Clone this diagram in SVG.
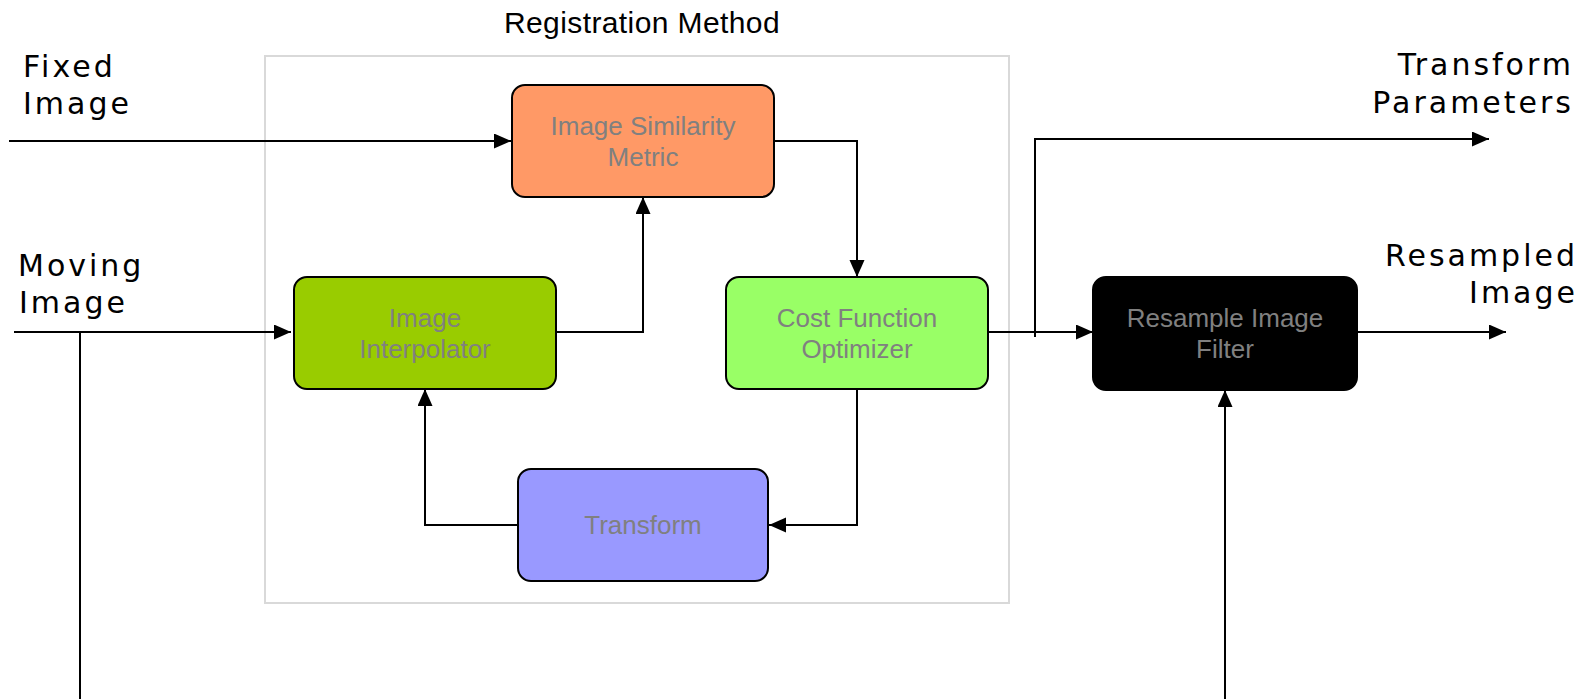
<svg xmlns="http://www.w3.org/2000/svg" width="1592" height="699" viewBox="0 0 1592 699">
<style>
.lbl{font-family:"DejaVu Sans",sans-serif;font-size:30px;letter-spacing:3px;fill:#000}
.box{stroke:#000;stroke-width:2}
.bt{font-family:"Liberation Sans",Arial,sans-serif;font-size:26px;fill:#808080;text-anchor:middle}
.c{fill:none;stroke:#000;stroke-width:2}
</style>
<defs>
<marker id="ah" markerUnits="userSpaceOnUse" markerWidth="18" markerHeight="16" refX="17" refY="7.5" orient="auto">
<path d="M0,0 L17,7.5 L0,15 z" fill="#000"/>
</marker>
</defs>
<rect width="1592" height="699" fill="#fff"/>
<g id="registration-method">
<rect x="265" y="56" width="744" height="547" fill="none" stroke="#d9d9d9" stroke-width="2"/>
<text x="642" y="33" font-family="Liberation Sans, Arial, sans-serif" font-size="30" letter-spacing="0.4" text-anchor="middle">Registration Method</text>
</g>
<g id="labels">
<text class="lbl" x="23" y="77">Fixed</text>
<text class="lbl" x="23" y="114">Image</text>
<text class="lbl" x="18" y="276">Moving</text>
<text class="lbl" x="19" y="313">Image</text>
<text class="lbl" x="1574" y="75" text-anchor="end">Transform</text>
<text class="lbl" x="1574" y="113" text-anchor="end">Parameters</text>
<text class="lbl" x="1578" y="266" text-anchor="end">Resampled</text>
<text class="lbl" x="1578" y="303" text-anchor="end">Image</text>
</g>
<g id="connectors">
<path class="c" d="M9,141 H511" marker-end="url(#ah)"/>
<path class="c" d="M14,332 H291" marker-end="url(#ah)"/>
<path class="c" d="M80,332 V699"/>
<path class="c" d="M774,141 H857 V277" marker-end="url(#ah)"/>
<path class="c" d="M556,332 H643 V197" marker-end="url(#ah)"/>
<path class="c" d="M857,389 V525 H769" marker-end="url(#ah)"/>
<path class="c" d="M518,525 H425 V389" marker-end="url(#ah)"/>
<path class="c" d="M988,332 H1093" marker-end="url(#ah)"/>
<path class="c" d="M1035,337 V139 H1489" marker-end="url(#ah)"/>
<path class="c" d="M1357,332 H1506" marker-end="url(#ah)"/>
<path class="c" d="M1225,699 V390" marker-end="url(#ah)"/>
</g>
<g id="similarity-metric">
<rect class="box" x="512" y="85" width="262" height="112" rx="13" fill="#ff9966"/>
<text class="bt" x="643" y="135">Image Similarity</text>
<text class="bt" x="643" y="166">Metric</text>
</g>
<g id="interpolator">
<rect class="box" x="294" y="277" width="262" height="112" rx="13" fill="#99cc00"/>
<text class="bt" x="425" y="327">Image</text>
<text class="bt" x="425" y="358">Interpolator</text>
</g>
<g id="optimizer">
<rect class="box" x="726" y="277" width="262" height="112" rx="13" fill="#99ff66"/>
<text class="bt" x="857" y="327">Cost Function</text>
<text class="bt" x="857" y="358">Optimizer</text>
</g>
<g id="transform">
<rect class="box" x="518" y="469" width="250" height="112" rx="13" fill="#9999ff"/>
<text class="bt" x="643" y="534">Transform</text>
</g>
<g id="resample-filter">
<rect class="box" x="1093" y="277" width="264" height="113" rx="13" fill="#000"/>
<text class="bt" x="1225" y="327">Resample Image</text>
<text class="bt" x="1225" y="358">Filter</text>
</g>
</svg>
